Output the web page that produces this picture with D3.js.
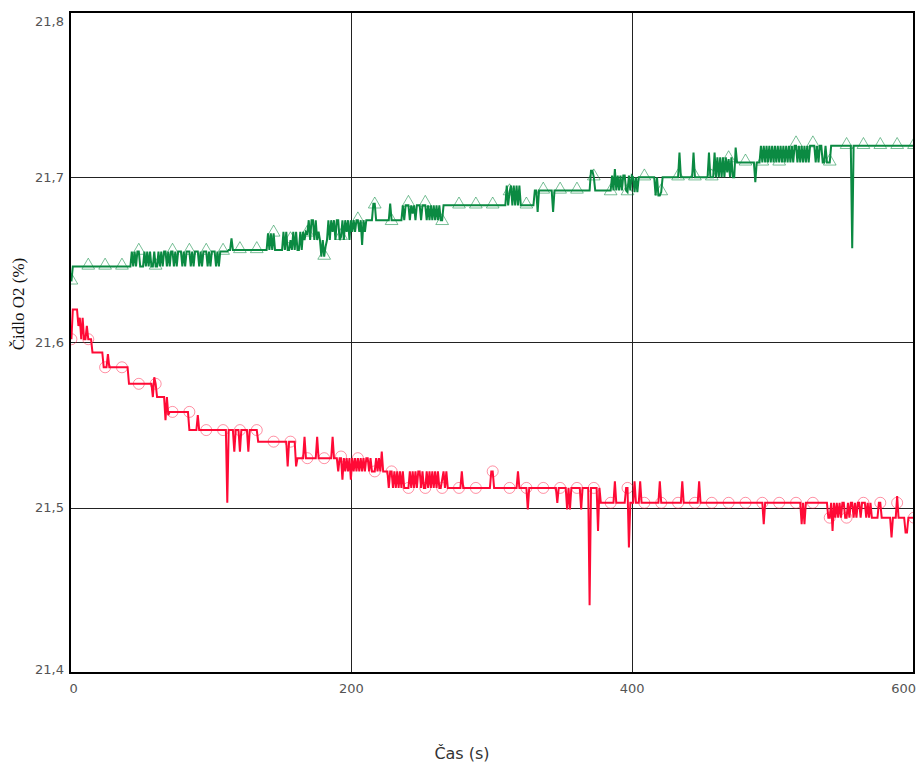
<!DOCTYPE html>
<html><head><meta charset="utf-8">
<script src="https://cdn.jsdelivr.net/npm/d3@7"></script>
<style>body{margin:0;background:#fff}</style></head>
<body>
<svg id="c" width="917" height="764"></svg>
<script>
const xTicks = [0, 200, 400, 600];
const xTickLabels = ["0", "200", "400", "600"];
const yTicks = [21.4, 21.5, 21.6, 21.7, 21.8];
const yTickLabels = ["21,4", "21,5", "21,6", "21,7", "21,8"];
const xTitle = "Čas (s)";
const yTitle = "Čidlo O2 (%)";

const markT = [1,13,25,37,49,61,73,85,97,109,121,133,145,157,169,181,193,205,217,229,241,253,265,277,289,301,313,325,337,349,361,373,385,397,409,421,433,445,457,469,481,493,505,517,529,541,553,565,577,589,601];

const greenMarkV = [21.637,21.646,21.646,21.646,21.655,21.646,21.655,21.655,21.655,21.655,21.656,21.656,21.666,21.662,21.666,21.652,21.664,21.674,21.683,21.673,21.684,21.684,21.673,21.683,21.683,21.683,21.691,21.683,21.692,21.692,21.692,21.700,21.691,21.691,21.700,21.691,21.700,21.700,21.700,21.711,21.709,21.709,21.709,21.720,21.720,21.709,21.719,21.719,21.719,21.719,21.719];

const redMarkV = [21.602,21.602,21.585,21.585,21.575,21.575,21.558,21.558,21.547,21.547,21.547,21.547,21.540,21.540,21.530,21.530,21.531,21.530,21.522,21.522,21.512,21.512,21.512,21.512,21.512,21.522,21.512,21.512,21.512,21.512,21.512,21.512,21.503,21.512,21.503,21.503,21.503,21.503,21.503,21.503,21.503,21.503,21.503,21.503,21.503,21.494,21.494,21.503,21.503,21.503,21.494];

const greenPts = [[1,21.637],[2,21.646],[43,21.646],
[44,21.655],[45,21.646],[46,21.655],[47,21.646],[48,21.655],[49,21.655],[50,21.646],[52,21.646],[53,21.655],[54,21.646],[55,21.655],[56,21.646],[57,21.655],[58,21.646],[59,21.646],[60,21.655],[61,21.646],[62,21.646],[63,21.655],[64,21.646],[65,21.655],[66,21.646],[67,21.655],[68,21.655],[69,21.646],[70,21.655],[71,21.646],[72,21.655],[73,21.655],[74,21.646],
[75,21.655],[76,21.646],[77,21.655],[79,21.655],[80,21.646],[81,21.655],[82,21.646],[83,21.655],[85,21.655],[86,21.646],[87,21.655],[88,21.646],[89,21.655],[91,21.655],[92,21.646],[93,21.655],[94,21.646],[95,21.655],[97,21.655],[98,21.646],[99,21.655],[100,21.646],[101,21.655],[103,21.655],[104,21.646],[105,21.655],[106,21.646],[107,21.655],[112,21.655],
[113,21.656],[114,21.656],[115,21.663],[116,21.656],[140,21.656],[141,21.666],[142,21.656],[143,21.666],[144,21.656],[145,21.666],[146,21.656],[151,21.656],
[152,21.667],[153,21.656],[154,21.667],[155,21.656],[156,21.656],[157,21.662],[158,21.656],[159,21.667],[160,21.656],[161,21.667],[162,21.656],[163,21.656],[164,21.667],[165,21.656],[166,21.667],[167,21.662],[168,21.667],[169,21.666],
[170,21.674],[171,21.662],[172,21.674],[173,21.674],[174,21.662],[175,21.674],[176,21.662],[177,21.667],[178,21.662],
[179,21.652],[180,21.662],[181,21.652],[182,21.658],[183,21.662],
[184,21.674],[185,21.662],[186,21.674],[187,21.667],[188,21.674],[189,21.662],[190,21.674],[191,21.674],[192,21.662],[193,21.664],[194,21.674],[195,21.662],[196,21.674],[197,21.667],[198,21.674],[199,21.662],[200,21.674],
[201,21.667],[202,21.674],[203,21.667],[204,21.674],[205,21.674],[206,21.667],[207,21.674],[208,21.659],[209,21.674],[210,21.667],[211,21.674],
[215,21.674],[216,21.684],[217,21.684],[218,21.674],[227,21.674],[228,21.684],[229,21.674],[236,21.674],
[237,21.683],[238,21.674],[239,21.683],[241,21.683],[242,21.674],[243,21.683],[244,21.678],[245,21.683],[246,21.674],[247,21.683],[249,21.683],[250,21.674],[251,21.683],[253,21.683],[254,21.674],[255,21.683],[256,21.674],[257,21.683],[258,21.674],[259,21.683],[260,21.674],[261,21.683],[262,21.674],[263,21.683],[264,21.674],[265,21.674],[266,21.683],
[310,21.683],
[311,21.695],[312,21.683],[313,21.691],[314,21.695],[315,21.683],[316,21.695],[317,21.683],[318,21.695],[319,21.683],[320,21.695],[321,21.683],[330,21.683],
[331,21.692],[332,21.692],[333,21.679],[334,21.692],[343,21.692],[344,21.679],[345,21.692],[370,21.692],[371,21.704],[372,21.704],[373,21.700],[374,21.692],
[384,21.692],
[385,21.692],[386,21.701],[387,21.692],[388,21.705],[389,21.692],[390,21.701],[391,21.692],[392,21.701],[393,21.692],[394,21.701],[395,21.701],[396,21.692],[397,21.691],[398,21.701],[399,21.692],[400,21.701],
[401,21.700],[402,21.691],[403,21.700],[404,21.691],[405,21.700],[416,21.700],[417,21.689],[418,21.700],[419,21.689],[420,21.689],[421,21.691],[422,21.700],
[433,21.700],[434,21.715],[435,21.700],[443,21.700],[444,21.715],[445,21.700],[454,21.700],[455,21.715],[456,21.700],[458,21.700],[459,21.715],[460,21.700],[461,21.712],[462,21.700],[463,21.712],[464,21.700],[465,21.712],[466,21.700],[467,21.712],[468,21.703],[469,21.711],[470,21.700],[471,21.712],[472,21.700],[473,21.700],[474,21.718],[475,21.709],
[487,21.709],[488,21.697],[489,21.709],
[491,21.709],[492,21.719],[493,21.709],[494,21.719],[495,21.709],[496,21.719],[497,21.709],[498,21.719],[499,21.709],[500,21.719],[501,21.709],[502,21.719],[503,21.709],[504,21.719],[505,21.709],[506,21.719],[507,21.709],[508,21.719],[509,21.709],[510,21.719],[511,21.709],[512,21.719],[513,21.709],[514,21.719],[515,21.709],[516,21.719],[517,21.719],[518,21.709],[519,21.719],[520,21.709],[521,21.719],[522,21.709],[523,21.719],[524,21.709],[525,21.719],[526,21.709],[527,21.719],[528,21.719],[529,21.719],[530,21.719],[531,21.709],[532,21.719],[533,21.709],[534,21.719],[535,21.719],[536,21.709],[537,21.709],[538,21.719],[539,21.709],[540,21.709],[541,21.709],[542,21.719],
[556,21.719],[557,21.657],[558,21.719],[601,21.719]];

const redPts = [[1,21.602],[2,21.620],[5,21.620],[6,21.610],[7,21.615],[8,21.602],[9,21.615],[10,21.602],[11,21.602],[12,21.610],[13,21.602],[15,21.602],[16,21.594],[23,21.594],[24,21.585],[26,21.585],[27,21.593],[28,21.585],[41,21.585],[42,21.575],[58,21.575],[59,21.567],[60,21.579],[61,21.575],[62,21.567],[67,21.567],[68,21.553],[69,21.567],[70,21.556],[71,21.558],[84,21.558],[85,21.547],[90,21.547],[91,21.556],[92,21.547],[111,21.547],[112,21.503],[113,21.547],[116,21.547],[117,21.534],[118,21.547],[120,21.547],[121,21.534],[122,21.547],[126,21.547],[127,21.534],[128,21.547],[133,21.547],[134,21.540],[154,21.540],[155,21.525],[156,21.540],[160,21.540],[161,21.525],[162,21.530],[166,21.530],[167,21.543],[168,21.530],[175,21.530],[176,21.543],[177,21.530],[186,21.530],[187,21.543],[188,21.530],[190,21.530],
[191,21.522],[192,21.530],[193,21.530],[194,21.517],[195,21.530],[196,21.522],[197,21.530],[198,21.522],[199,21.530],[200,21.517],[201,21.530],[202,21.522],[203,21.530],[204,21.522],[205,21.530],[206,21.522],[207,21.530],[208,21.522],[209,21.530],[210,21.522],[211,21.530],[212,21.530],[213,21.522],[214,21.530],[215,21.522],[216,21.522],[217,21.522],[218,21.530],[219,21.522],[220,21.530],[221,21.522],[222,21.534],[223,21.522],
[226,21.522],[227,21.512],[228,21.522],[229,21.522],[230,21.512],[231,21.522],[232,21.512],[233,21.522],[234,21.512],[235,21.522],[236,21.512],[237,21.522],[238,21.512],[239,21.512],[240,21.512],[241,21.512],[242,21.522],[243,21.512],[244,21.522],[245,21.512],[246,21.522],[247,21.512],[248,21.522],[249,21.522],[250,21.512],[251,21.522],[252,21.512],[253,21.512],[254,21.522],[255,21.512],[256,21.522],[257,21.512],[258,21.522],[259,21.512],[260,21.522],[261,21.512],[262,21.522],[263,21.512],[264,21.512],
[266,21.522],[267,21.512],[268,21.522],[269,21.512],[278,21.512],[279,21.522],[280,21.512],[299,21.512],[300,21.522],[301,21.522],[302,21.512],[318,21.512],[319,21.522],[320,21.512],[325,21.512],[326,21.499],[327,21.512],[346,21.512],[347,21.503],[348,21.512],[353,21.512],[354,21.499],[355,21.512],[356,21.499],[357,21.512],[363,21.512],[364,21.499],[365,21.512],[369,21.512],[370,21.441],[371,21.512],[375,21.512],[376,21.486],[377,21.512],[378,21.503],
[387,21.503],[388,21.516],[389,21.503],[395,21.503],[396,21.512],[397,21.512],[398,21.476],[399,21.503],
[401,21.503],[402,21.516],[403,21.503],[405,21.503],[406,21.516],[407,21.503],[419,21.503],[420,21.516],[421,21.503],[435,21.503],[436,21.516],[437,21.503],[447,21.503],[448,21.516],[449,21.503],[493,21.503],[494,21.490],[495,21.503],[520,21.503],[521,21.490],[522,21.503],[523,21.490],[524,21.503],[539,21.503],
[540,21.494],[541,21.494],[542,21.503],[543,21.486],[544,21.503],[545,21.494],[546,21.503],[547,21.494],[548,21.503],[549,21.494],[550,21.503],[551,21.503],[552,21.494],[553,21.494],[554,21.503],[555,21.494],
[556,21.503],[557,21.503],[558,21.494],[559,21.503],[560,21.494],[561,21.503],[562,21.503],[563,21.494],[564,21.503],[565,21.503],[566,21.503],[567,21.494],[568,21.503],[569,21.494],[570,21.503],[571,21.494],[572,21.494],
[575,21.494],[576,21.503],[577,21.503],[578,21.494],[584,21.494],[585,21.482],[586,21.494],[588,21.494],[589,21.507],[590,21.494],[594,21.494],[595,21.485],[596,21.485],[597,21.494],[601,21.494]];

const W = 917, H = 764;
const plot = {left: 70, right: 914, top: 12, bottom: 673};
const svg = d3.select("#c");
const x = d3.scaleLinear().domain([0, 601]).range([plot.left, plot.right]);
const y = d3.scaleLinear().domain([21.4, 21.8]).range([plot.bottom, plot.top]);

svg.append("defs").append("clipPath").attr("id", "clip")
  .append("rect").attr("x", plot.left).attr("y", plot.top)
  .attr("width", plot.right - plot.left).attr("height", plot.bottom - plot.top);

// grid
const g = svg.append("g");
g.selectAll("line.hg").data(yTicks.slice(1, -1)).enter().append("line")
  .attr("x1", plot.left).attr("x2", plot.right)
  .attr("y1", d => Math.round(y(d)) + 0.5).attr("y2", d => Math.round(y(d)) + 0.5)
  .attr("stroke", "#222").attr("stroke-width", 1);
g.selectAll("line.vg").data(xTicks.slice(1, -1)).enter().append("line")
  .attr("y1", plot.top).attr("y2", plot.bottom)
  .attr("x1", d => Math.round(x(d)) + 0.5).attr("x2", d => Math.round(x(d)) + 0.5)
  .attr("stroke", "#222").attr("stroke-width", 1);

// axes labels via d3 axes
const yAxis = d3.axisLeft(y).tickValues(yTicks).tickSize(0).tickPadding(6)
  .tickFormat((d, i) => yTickLabels[i]);
const ya = svg.append("g").attr("transform", `translate(${plot.left},0)`).call(yAxis);
ya.select(".domain").remove();
ya.selectAll("text").attr("font-family", "DejaVu Sans, Verdana, sans-serif")
  .attr("font-size", 13).attr("fill", "#545454")
  .attr("dy", (d, i) => i === yTicks.length - 1 ? "1.05em" : (i === 0 ? "0.05em" : "0.32em"));

const xAxis = d3.axisBottom(x).tickValues(xTicks).tickSize(0).tickPadding(11)
  .tickFormat((d, i) => xTickLabels[i]);
const xa = svg.append("g").attr("transform", `translate(0,${plot.bottom})`).call(xAxis);
xa.select(".domain").remove();
xa.selectAll("text").attr("font-family", "DejaVu Sans, Verdana, sans-serif")
  .attr("font-size", 13).attr("fill", "#545454")
  .attr("text-anchor", (d, i) => i === 0 ? "start" : (i === xTicks.length - 1 ? "end" : "middle"))
  .attr("x", (d, i) => i === 0 ? -1 : (i === xTicks.length - 1 ? 3 : 0));

// lines
const line = d3.line().x(d => x(d[0])).y(d => y(d[1]));
const series = svg.append("g").attr("clip-path", "url(#clip)");
series.append("path").datum(greenPts).attr("d", line)
  .attr("fill", "none").attr("stroke", "#0b8a42").attr("stroke-width", 2).attr("stroke-linejoin", "miter");
series.append("path").datum(redPts).attr("d", line)
  .attr("fill", "none").attr("stroke", "#ff0a36").attr("stroke-width", 2).attr("stroke-linejoin", "miter");

// markers
const tri = d3.symbol().type(d3.symbolTriangle).size(70);
series.selectAll("path.tri").data(markT).enter().append("path")
  .attr("d", tri)
  .attr("transform", (d, i) => `translate(${x(d)},${y(greenMarkV[i]) - 1})`)
  .attr("fill", "none").attr("stroke", "#0b8a42").attr("stroke-opacity", 0.55).attr("stroke-width", 1);
series.selectAll("circle.mk").data(markT).enter().append("circle")
  .attr("cx", d => x(d)).attr("cy", (d, i) => y(redMarkV[i])).attr("r", 5.5)
  .attr("fill", "none").attr("stroke", "#ff0a36").attr("stroke-opacity", 0.45).attr("stroke-width", 1);

// frame
svg.append("rect").attr("x", plot.left).attr("y", plot.top)
  .attr("width", plot.right - plot.left).attr("height", plot.bottom - plot.top)
  .attr("fill", "none").attr("stroke", "#000").attr("stroke-width", 2);

// titles
svg.append("text").attr("x", 462).attr("y", 759).attr("text-anchor", "middle")
  .attr("font-family", "DejaVu Sans, Verdana, sans-serif").attr("font-size", 16).attr("fill", "#333")
  .text(xTitle);
svg.append("text").attr("transform", "translate(24,304) rotate(-90)").attr("text-anchor", "middle")
  .attr("font-family", "Liberation Serif, Times New Roman, serif").attr("font-size", 17).attr("fill", "#111")
  .text(yTitle);
</script>
</body></html>
